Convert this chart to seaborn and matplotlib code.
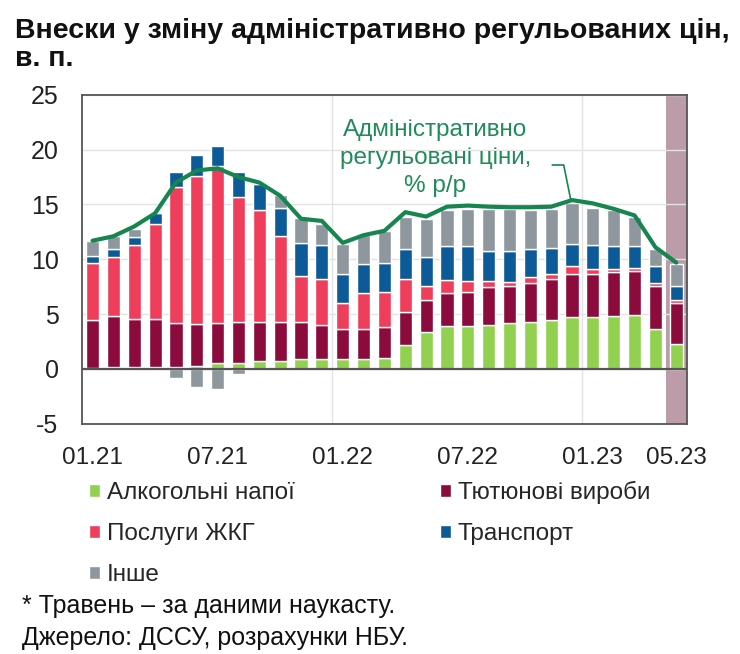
import numpy as np
import pandas as pd
import matplotlib
matplotlib.use("Agg")
import matplotlib.pyplot as plt
import seaborn as sns

# months 01.21 - 05.23
months = ["01.21", "02.21", "03.21", "04.21", "05.21", "06.21", "07.21", "08.21", "09.21", "10.21",
          "11.21", "12.21", "01.22", "02.22", "03.22", "04.22", "05.22", "06.22", "07.22", "08.22",
          "09.22", "10.22", "11.22", "12.22", "01.23", "02.23", "03.23", "04.23", "05.23"]
tick_labels = ["01.21", "07.21", "01.22", "07.22", "01.23", "05.23"]

# contributions, p.p.
alcohol = [0.1, 0.2, 0.2, 0.2, 0.2, 0.3, 0.5, 0.5, 0.7, 0.7, 0.9, 0.9, 0.9, 0.9, 1.0,
           2.2, 3.4, 3.9, 3.9, 4.0, 4.2, 4.3, 4.5, 4.7, 4.7, 4.8, 4.9, 3.6, 2.3]
tobacco = [4.4, 4.6, 4.4, 4.4, 4.0, 3.8, 3.7, 3.8, 3.6, 3.6, 3.4, 3.1, 2.7, 2.7, 2.8,
           3.0, 2.9, 3.0, 3.1, 3.5, 3.4, 3.5, 3.7, 4.0, 4.0, 4.0, 4.0, 4.0, 3.7]
housing = [5.2, 5.4, 6.7, 8.6, 12.4, 13.5, 14.3, 11.4, 10.2, 7.8, 4.2, 4.2, 2.4, 3.3, 3.2,
           3.0, 1.3, 1.2, 1.0, 0.5, 0.3, 0.6, 0.5, 0.7, 0.4, 0.3, 0.3, 0.2, 0.3]
transport = [0.6, 0.7, 0.7, 1.0, 1.4, 1.9, 1.8, 2.3, 2.4, 2.6, 3.0, 3.1, 2.7, 2.7, 2.7,
             2.7, 2.6, 3.1, 3.2, 2.8, 2.9, 2.5, 2.3, 2.0, 2.2, 2.1, 2.0, 1.6, 1.3]
other = [1.4, 1.2, 0.8, 0.0, -0.8, -1.6, -1.8, -0.5, 0.0, 1.2, 2.3, 1.9, 2.7, 2.6, 2.9,
         3.0, 3.5, 3.3, 3.4, 3.8, 3.8, 3.6, 3.6, 3.7, 3.4, 3.3, 2.7, 1.5, 2.0]
# administered prices, % y/y
admin_prices = [11.7, 12.1, 13.0, 14.2, 17.0, 18.1, 18.3, 17.5, 17.0, 15.8, 13.7, 13.5, 11.5, 12.2, 12.6,
                14.3, 13.9, 14.8, 14.9, 14.8, 14.75, 14.75, 14.8, 15.4, 15.1, 14.6, 14.0, 11.1, 9.7]

series = [
    ("Алкогольні напої", alcohol, "#92d050"),
    ("Тютюнові вироби", tobacco, "#8a0b3c"),
    ("Послуги ЖКГ", housing, "#ef3e5c"),
    ("Транспорт", transport, "#0c5b98"),
    ("Інше", other, "#8e969e"),
]

sns.set_style("white")
plt.rcParams["font.family"] = ["Liberation Sans", "DejaVu Sans"]
plt.rcParams["axes.unicode_minus"] = False

fig = plt.figure(figsize=(7.4, 6.54), dpi=100)
ax = fig.add_axes([0.111, 0.352, 0.817, 0.503])

# shaded nowcast month
ax.axvspan(len(months) - 1.5, len(months) - 0.5, color="#bb9ca8", zorder=0, lw=0)

pos_base = np.zeros(len(months))
neg_base = np.zeros(len(months))
for name, vals, col in series:
    vals = np.array(vals)
    bottom = np.where(vals >= 0, pos_base, neg_base)
    sns.barplot(x=months, y=vals, bottom=bottom, color=col, width=0.63,
                saturation=1, ax=ax, label=name, zorder=2)
    pos_base = pos_base + np.clip(vals, 0, None)
    neg_base = neg_base + np.clip(vals, None, 0)

sns.lineplot(x=months, y=admin_prices, color="#17854f", lw=3, sort=False, ax=ax, zorder=4)

# legend handles from the bars, then drop the axes legend
h, l = ax.get_legend_handles_labels()
if ax.get_legend() is not None:
    ax.get_legend().remove()

ax.set_ylim(-5, 25)
ax.set_xlim(-0.5, len(months) - 0.5)
ax.set_yticks(range(-5, 26, 5))
ax.set_xticks([months.index(t) for t in tick_labels])
ax.set_xticklabels(tick_labels)
ax.tick_params(axis="y", direction="in", length=3, width=1.3, color="#555555",
               labelsize=18, labelcolor="#222222", pad=17)
ax.tick_params(axis="x", length=0, labelsize=17.5, labelcolor="#222222", pad=17)
ax.set_xlabel("")
ax.set_ylabel("")

for y in range(-5, 26, 5):
    ax.axhline(y, color="#e2e2e2", lw=1, zorder=0.5)
for xv in [11.5, 23.5]:
    ax.axvline(xv, color="#e2e2e2", lw=1, zorder=0.5)
ax.axhline(0, color="#555555", lw=1.6, zorder=3)
for s in ax.spines.values():
    s.set_color("#555555")
    s.set_linewidth(1.3)
    s.set_visible(True)

# annotation for the line
ax.text(16.45, 19.2, "Адміністративно\nрегульовані ціни,\n% р/р", ha="center", va="center",
        fontsize=17.5, color="#1f8c5a", linespacing=1.35, zorder=5)
ax.plot([22.05, 22.6, 22.95], [18.6, 18.6, 15.3], color="#17854f", lw=1.2, zorder=5)

# legend in row order
order = [0, 2, 4, 1, 3]
fig.legend([h[i] for i in order], [l[i] for i in order], ncol=2, loc="upper left",
           bbox_to_anchor=(0.107, 0.279), frameon=False, fontsize=17.5,
           handlelength=0.45, handleheight=0.45, handletextpad=0.3,
           columnspacing=5.95, labelspacing=0.77, borderaxespad=0)

fig.text(0.02, 0.972, "Внески у зміну адміністративно регульованих цін,\nв. п.", ha="left", va="top",
         fontsize=20.5, fontweight="bold", color="#111111", linespacing=1.1)
fig.text(0.03, 0.073, "* Травень – за даними наукасту.", ha="left", va="center", fontsize=18, color="#111111")
fig.text(0.03, 0.025, "Джерело: ДССУ, розрахунки НБУ.", ha="left", va="center", fontsize=18, color="#111111")

fig.savefig("out.png", dpi=100)
